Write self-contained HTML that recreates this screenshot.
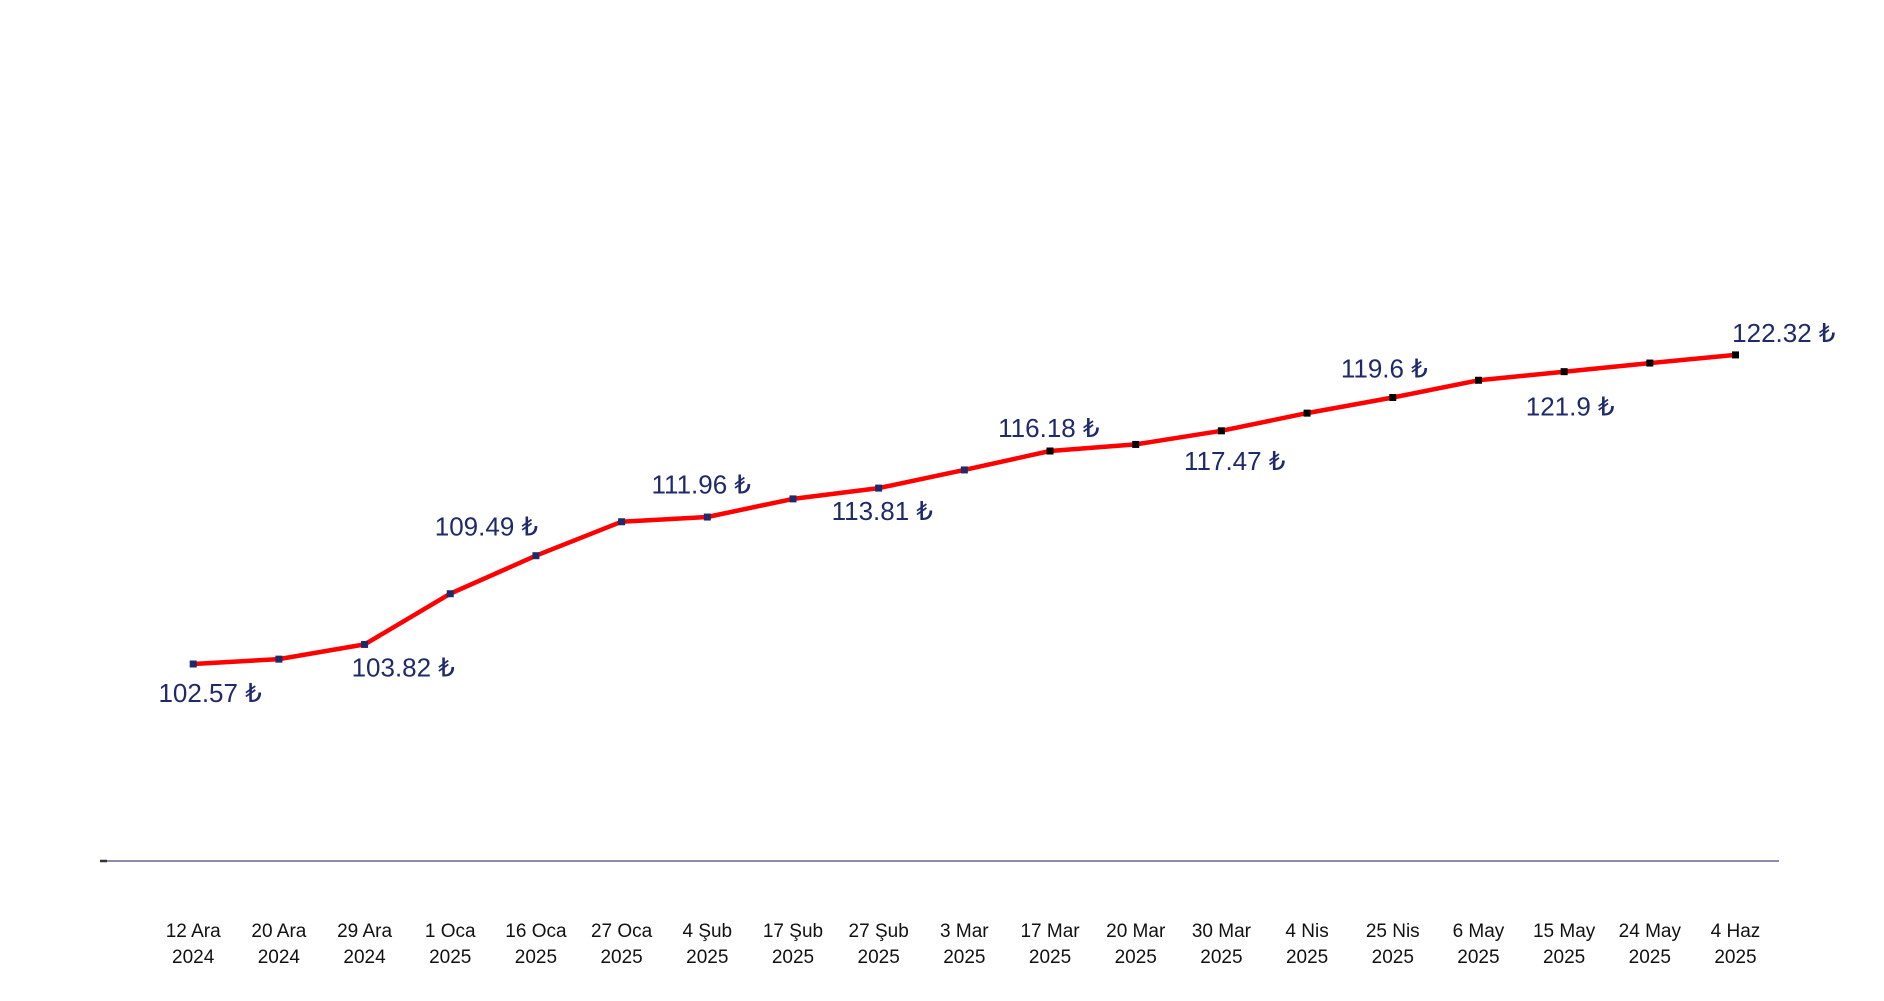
<!DOCTYPE html>
<html><head><meta charset="utf-8"><style>
html,body{margin:0;padding:0;background:#fff;}
svg{display:block;}
</style></head><body>
<svg id="chart" width="1884" height="1001" xmlns="http://www.w3.org/2000/svg"></svg>
<script>
const categories = ["12 Ara|2024","20 Ara|2024","29 Ara|2024","1 Oca|2025","16 Oca|2025","27 Oca|2025","4 Şub|2025","17 Şub|2025","27 Şub|2025","3 Mar|2025","17 Mar|2025","20 Mar|2025","30 Mar|2025","4 Nis|2025","25 Nis|2025","6 May|2025","15 May|2025","24 May|2025","4 Haz|2025"];
const values = [102.57,102.88,103.82,107.06,109.49,111.66,111.96,113.12,113.81,114.97,116.18,116.6,117.47,118.6,119.6,120.7,121.25,121.8,122.32];
const printedLabels = ["102.57 ₺",null,"103.82 ₺",null,"109.49 ₺",null,"111.96 ₺",null,"113.81 ₺",null,"116.18 ₺",null,"117.47 ₺",null,"119.6 ₺",null,"121.9 ₺",null,"122.32 ₺"];

const S = 1.2077;
const svg = document.getElementById('chart');
const NS = 'http://www.w3.org/2000/svg';
const x0 = 193.2, x1 = 1735.5;
function xScale(i){ return x0 + (x1 - x0) * i / (categories.length - 1); }
function yScale(v){ return 664 - (v - 102.57) * 15.65; }
const labelOffsets = {0:[14,24],2:[32,19],4:[-41,-24],6:[-5,-27],8:[3,19],10:[-1,-19],12:[11,25],14:[-7,-24],16:[5,29],18:[40,-18]};

function mk(tag, attrs){ const e = document.createElementNS(NS, tag); for (const k in attrs) e.setAttribute(k, attrs[k]); return e; }

// axis
const axis = mk('line',{x1:100,y1:861,x2:1779,y2:861,stroke:'#8c8ca8','stroke-width':2});


svg.appendChild(axis);
const tick = mk('line',{x1:100,y1:861,x2:107,y2:861,stroke:'#333','stroke-width':2.5});


svg.appendChild(tick);

// line
const pts = values.map((v,i)=>xScale(i).toFixed(1)+','+yScale(v).toFixed(1)).join(' ');
const line = mk('polyline',{points:pts,fill:'none',stroke:'#ff0000','stroke-width':4.5,'stroke-linejoin':'round'});


svg.appendChild(line);

values.forEach((v,i)=>{
  const cx = xScale(i), cy = yScale(v);
  const m = mk('rect',{x:cx-3.5,y:cy-3.5,width:7,height:7,fill: i < 10 ? '#1f2a6b' : '#000'});
  
  
  svg.appendChild(m);
  if (printedLabels[i]) {
    const o = labelOffsets[i] || [0,-24];
    const t = mk('text',{x:cx + o[0]*S, y:cy + o[1]*S + 9, 'text-anchor':'middle', 'font-family':'"Liberation Sans", sans-serif', 'font-size':26, fill:'#1f2a6b'});
    t.textContent = printedLabels[i];
    
    
    svg.appendChild(t);
  }
  const parts = categories[i].split('|');
  parts.forEach((p,j)=>{
    const t = mk('text',{x:cx, y:937 + j*26, 'text-anchor':'middle', 'font-family':'"Liberation Sans", sans-serif', 'font-size':19, fill:'#111'});
    t.textContent = p;
    
    
    svg.appendChild(t);
  });
});
</script>
</body></html>
